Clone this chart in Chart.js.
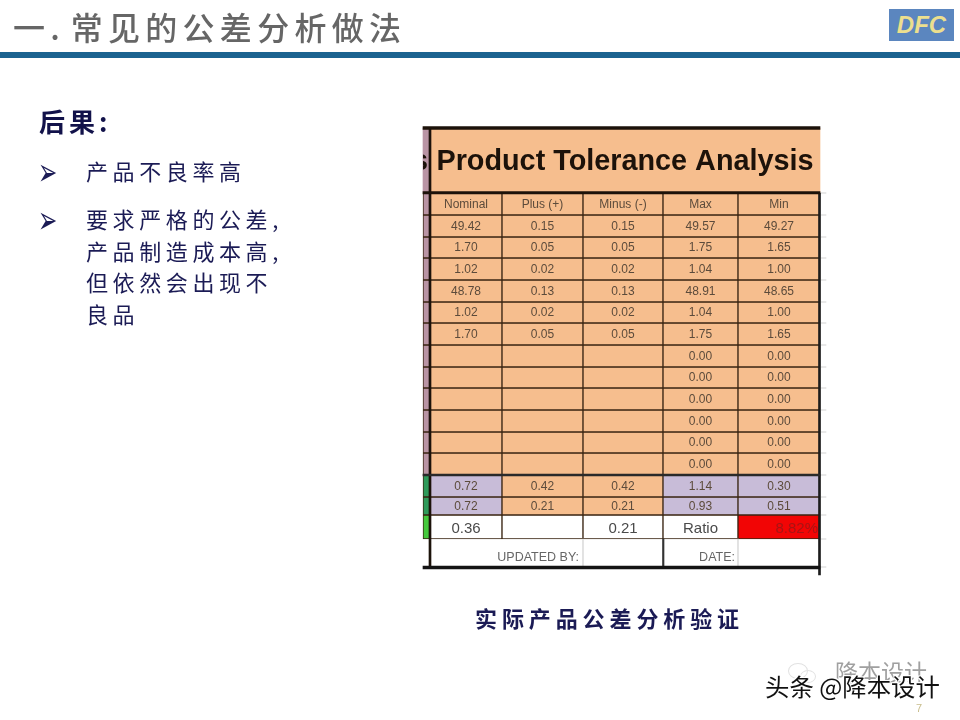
<!DOCTYPE html>
<html>
<head>
<meta charset="utf-8">
<script src="https://cdn.jsdelivr.net/npm/chart.js@4/dist/chart.umd.min.js"></script>
<style>
html, body { margin: 0; padding: 0; background: #fff; }
#slide { position: relative; width: 960px; height: 720px; overflow: hidden; font-family: "Noto Sans CJK SC"; color: #1b1b55; }
#slide div { position: absolute; white-space: nowrap; }
#tableBox { left: 0; top: 0; width: 960px; height: 720px; }
#heading { left: 13px; top: 3px; font-size: 32px; line-height: 46px; letter-spacing: 5.3px; color: #666; font-weight: 500; }
#heading span { letter-spacing: -1.7px; }
#rule { left: 0; top: 52px; width: 960px; height: 6px; background: #1b6390; }
#logo { left: 889px; top: 9px; width: 65px; height: 32px; background: #5b86bf; color: #ecdf8e; font: italic bold 24px/32px "Liberation Sans"; text-align: center; }
#lead { left: 39px; top: 102px; font-size: 26px; line-height: 38px; font-weight: 700; letter-spacing: 4px; color: #12124a; }
.arrow { left: 38px; font: 20px/24px "DejaVu Sans"; color: #1b1b55; transform: scale(1.15, 1.9); transform-origin: left center; }
.item { left: 86px; font-size: 22px; line-height: 31.5px; letter-spacing: 4.6px; }
#caption { left: 475px; top: 600px; font-size: 22px; line-height: 34px; font-weight: 700; letter-spacing: 4.9px; }
#ghost { left: 835px; top: 655px; font-size: 23px; line-height: 32px; color: #a0a0a0; }
.wave { border: 1px solid #e2e2e2; border-radius: 50%; }
#mark { left: 765px; top: 668px; font-size: 24.4px; line-height: 36px; color: #111; text-shadow: 1px 1px 0 #fff, -1px -1px 0 #fff, 1px -1px 0 #fff, -1px 1px 0 #fff; }
#page { left: 916px; top: 701px; font: 11px/14px "Liberation Sans"; color: #c8bd8c; }
</style>
</head>
<body>
<div id="slide">
  <div id="tableBox"><canvas id="tableChart" width="960" height="720"></canvas></div>
  <div id="heading">一<span>.</span> 常见的公差分析做法</div>
  <div id="rule"></div>
  <div id="logo">DFC</div>
  <div id="lead">后果:</div>
  <div class="arrow" style="top:160px">➢</div>
  <div class="item" style="top:155px">产品不良率高</div>
  <div class="arrow" style="top:208px">➢</div>
  <div class="item" style="top:203px">要求严格的公差,<br>产品制造成本高,<br>但依然会出现不<br>良品</div>
  <div id="caption">实际产品公差分析验证</div>
  <div class="wave" style="left:788px;top:663px;width:18px;height:14px"></div>
  <div class="wave" style="left:800px;top:670px;width:14px;height:11px"></div>
  <div id="ghost">降本设计</div>
  <div id="mark">头条 @降本设计</div>
  <div id="page">7</div>
</div>
<script>
const tableTitle = 'Product Tolerance Analysis'
const columns = ['Nominal', 'Plus (+)', 'Minus (-)', 'Max', 'Min']
const nominal = ['49.42', '1.70', '1.02', '48.78', '1.02', '1.70', '', '', '', '', '', '', '0.72', '0.72', '0.36']
const plus = ['0.15', '0.05', '0.02', '0.13', '0.02', '0.05', '', '', '', '', '', '', '0.42', '0.21', '']
const minus = ['0.15', '0.05', '0.02', '0.13', '0.02', '0.05', '', '', '', '', '', '', '0.42', '0.21', '0.21']
const maxVals = ['49.57', '1.75', '1.04', '48.91', '1.04', '1.75', '0.00', '0.00', '0.00', '0.00', '0.00', '0.00', '1.14', '0.93', 'Ratio']
const minVals = ['49.27', '1.65', '1.00', '48.65', '1.00', '1.65', '0.00', '0.00', '0.00', '0.00', '0.00', '0.00', '0.30', '0.51', '8.82%']
const footerLabels = ['UPDATED BY:', 'DATE:']

// table grid on the page
const colEdges = [423, 430, 502, 583, 663, 738, 820]
const rowEdges = [128, 193, 215, 237, 258, 280, 302, 323, 345, 367, 388, 410, 432, 453, 475, 497, 515, 539, 567]

const ORANGE = '#f6be8e'
const PURPLE = '#c8bcd8'
const LINE = '#3a2412'

function band(x0, x1, y0, y1, color) {
    return {
        data: [{ x: [x0, x1], y: (y0 + y1) / 2 }],
        backgroundColor: color,
        borderWidth: 0,
        barThickness: y1 - y0,
        grouped: false,
        cellText: [''],
    }
}

function rowDataset(r) {
    // r is the index into rowEdges, first value row is 2
    const i = r - 2
    const top = rowEdges[r], bottom = rowEdges[r + 1]
    const texts = r == 1 ? columns : [nominal[i], plus[i], minus[i], maxVals[i], minVals[i]]
    let fills = [ORANGE, ORANGE, ORANGE, ORANGE, ORANGE]
    if (i == 12 || i == 13) fills = [PURPLE, ORANGE, ORANGE, PURPLE, PURPLE]
    if (i == 14) fills = ['#fff', '#fff', '#fff', '#fff', '#f20505']
    let stub = '#b994a4'
    if (i == 12 || i == 13) stub = '#2f9a5a'
    if (i == 14) stub = '#45c93c'
    return {
        data: [stub].concat(fills).map((c, k) => ({ x: [colEdges[k], colEdges[k + 1]], y: (top + bottom) / 2 })),
        backgroundColor: [stub].concat(fills),
        borderColor: LINE,
        borderWidth: 1,
        borderSkipped: false,
        barThickness: bottom - top,
        grouped: false,
        cellText: [''].concat(texts),
        cellFont: i == 14 ? '15px "Liberation Sans"' : '12px "Liberation Sans"',
        cellColor: i == 14 ? '#4a4a4a' : '#5c4b3b',
        cellDy: i == 14 ? 2 : 0.5,
    }
}

// first dataset ends up on top, so the heavy lines go first
const datasets = []
datasets.push(band(423, 820, 126.5, 129.5, '#1c120a'))
datasets.push(band(423, 820, 191.5, 194, '#1c120a'))
datasets.push(band(423, 820, 474, 476, '#2a2a2a'))
datasets.push(band(423, 820, 566, 569, '#141414'))
datasets.push(band(429, 431, 128, 568, '#1c120a'))
datasets.push(band(818.5, 820.5, 193, 575, '#1c1c1c'))
datasets.push(band(662.5, 664, 539, 567, '#333'))
datasets.push(band(582.5, 583.5, 539, 567, '#ddd'))
datasets.push(band(737.5, 738.5, 539, 567, '#ddd'))
rowEdges.slice(1).forEach(y => datasets.push(band(821, 826, y - 0.5, y + 0.5, '#e4e4e4')))

for (let r = 1; r < rowEdges.length - 2; r++) datasets.push(rowDataset(r))

// footer row, white with the two right aligned captions
datasets.push({
    data: [{ x: [430, 583], y: 553 }, { x: [583, 738], y: 553 }],
    backgroundColor: '#fff',
    borderWidth: 0,
    barThickness: 28,
    grouped: false,
    cellText: footerLabels,
    cellAlign: [{ right: 579 }, { right: 735 }],
    cellFont: '12.5px "Liberation Sans"',
    cellColor: '#666',
    cellDy: 5,
})

// title row, the stub shows the clipped end of the neighbouring sheet column
datasets.push({
    data: [{ x: [423, 430], y: 160.5 }, { x: [430, 820], y: 160.5 }],
    backgroundColor: ['#b994a4', ORANGE],
    borderWidth: 0,
    barThickness: 65,
    grouped: false,
    cellText: ['s', tableTitle],
    cellClip: [true, false],
    cellFont: 'bold 28.8px "Liberation Sans"',
    cellColor: '#1c120a',
    cellDy: 2,
})

const cellLabels = {
    id: 'cellLabels',
    afterDatasetsDraw(chart) {
        const ctx = chart.ctx
        ctx.textBaseline = 'middle'
        chart.data.datasets.forEach((ds, d) => {
            chart.getDatasetMeta(d).data.forEach((bar, k) => {
                const t = ds.cellText && ds.cellText[k]
                if (!t) return
                ctx.save()
                ctx.font = ds.cellFont
                ctx.fillStyle = t == '8.82%' ? '#a81414' : ds.cellColor
                let tx = (bar.x + bar.base) / 2
                ctx.textAlign = 'center'
                if (ds.cellAlign) {
                    tx = chart.scales.x.getPixelForValue(ds.cellAlign[k].right)
                    ctx.textAlign = 'right'
                }
                if (t == '8.82%') {
                    tx = Math.max(bar.x, bar.base) - 2
                    ctx.textAlign = 'right'
                }
                if (ds.cellClip && ds.cellClip[k]) {
                    ctx.beginPath()
                    ctx.rect(bar.base, bar.y - 30, bar.x - bar.base - 2, 60)
                    ctx.clip()
                    tx = bar.base - 3
                }
                ctx.fillText(t, tx, bar.y + (ds.cellDy || 0))
                ctx.restore()
            })
        })
    }
}

new Chart(document.getElementById('tableChart'), {
    type: 'bar',
    data: { datasets: datasets },
    options: {
        responsive: false,
        animation: false,
        indexAxis: 'y',
        layout: { padding: 0 },
        plugins: { legend: { display: false }, tooltip: { enabled: false }, title: { display: false } },
        scales: {
            x: { type: 'linear', min: 0, max: 960, display: false },
            y: { type: 'linear', min: 0, max: 720, reverse: true, offset: false, display: false },
        },
    },
    plugins: [cellLabels],
})
</script>
</body>
</html>
